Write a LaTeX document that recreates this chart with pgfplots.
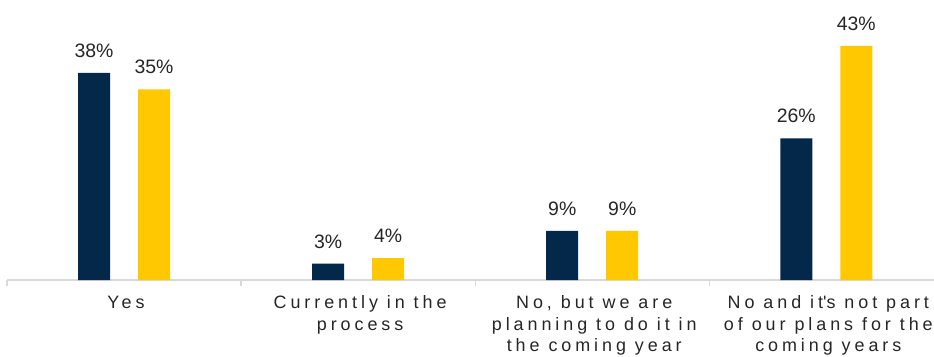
\documentclass[border=0pt]{standalone}
\usepackage{fontspec}
\setmainfont{Liberation Sans}
\usepackage{pgfplots}
\pgfplotsset{compat=1.18}
\definecolor{navy}{HTML}{03284A}
\definecolor{gold}{HTML}{FFC800}
\definecolor{txt}{HTML}{262626}
\definecolor{axisgray}{HTML}{D9D9D9}
\begin{document}
\begin{tikzpicture}[x=1bp,y=1bp]
\begin{axis}[
  at={(7bp,76bp)}, anchor=south west,
  scale only axis, width=927bp, height=280bp,
  xmin=-0.5, xmax=3.46, ymin=0, ymax=51.4,
  ybar=28bp, bar width=32bp,
  axis x line*=bottom, axis y line=none,
  x axis line style={draw=axisgray, line width=1.3bp, -},
  xtick={0,1,2,3},
  xticklabels={Yes, Currently in the\\process, {No, but we are\\planning to do it in\\the coming year}, No and it\textquotesingle s not part\\of our plans for the\\coming years},
  major tick length=0pt,
  extra x ticks={-0.5,0.5,1.5,2.5},
  extra x tick labels={},
  extra x tick style={major tick length=6bp, tick align=outside, tick style={draw=axisgray, line width=1.3bp}},
  /pgf/number format/assume math mode=true,
  nodes near coords={\pgfmathprintnumber{\pgfplotspointmeta}\%},
  nodes near coords style={font=\fontsize{19.5}{22}\selectfont, text=txt, anchor=south, inner sep=0pt, yshift=15bp},
  xticklabel style={font=\fontsize{18}{21.5}\selectfont\addfontfeature{LetterSpace=22}, text=txt, align=center, inner sep=0pt, anchor=north, yshift=-15.5bp, xshift=2bp},
  clip=false, enlargelimits=false,
]
\addplot[draw=none, fill=navy] coordinates {(0,38) (1,3) (2,9) (3,26)};
\addplot[draw=none, fill=gold] coordinates {(0,35) (1,4) (2,9) (3,43)};
\end{axis}
\pgfresetboundingbox
\path (0,0) rectangle (934,356);
\end{tikzpicture}
\end{document}
